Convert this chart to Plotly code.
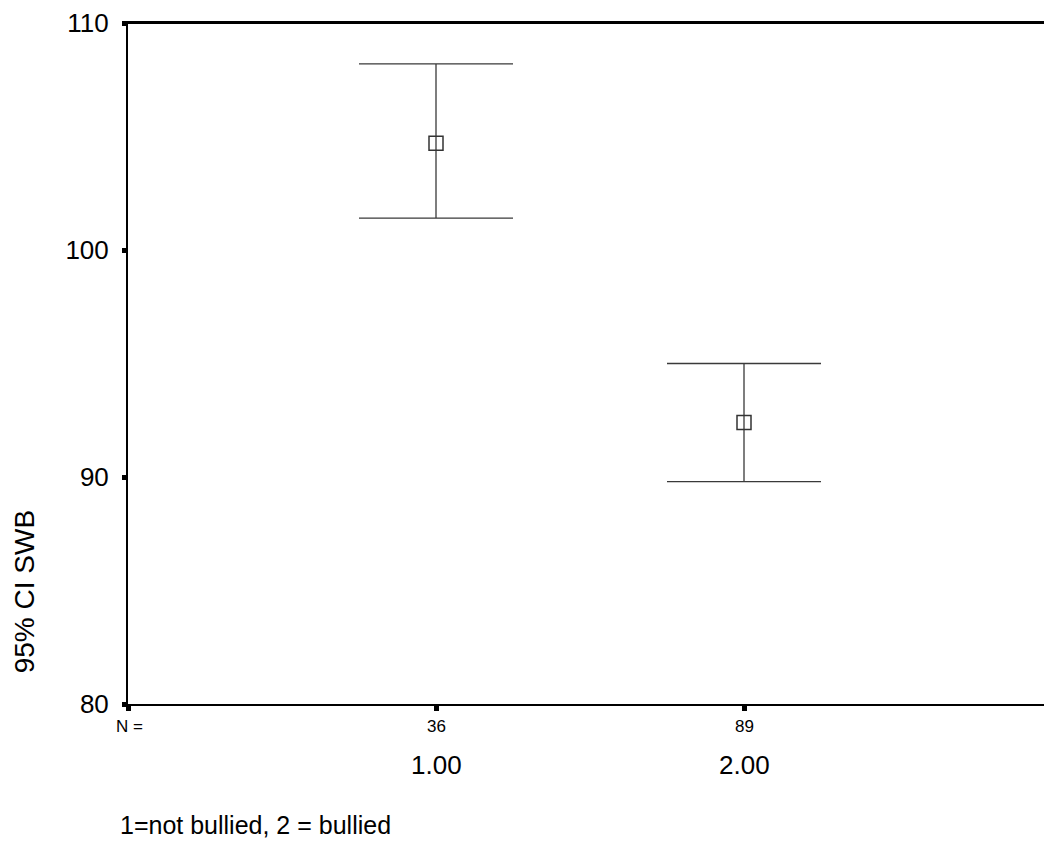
import plotly.graph_objects as go

groups = [1, 2]
group_labels = ["1.00", "2.00"]
n_values = [36, 89]
means = [104.7, 92.4]
upper = [108.2, 95.0]
lower = [101.4, 89.8]

y_ticks = [80, 90, 100, 110]

err_plus = [u - m for u, m in zip(upper, means)]
err_minus = [m - l for m, l in zip(means, lower)]

FONT = "Liberation Sans, Arial, sans-serif"

# page has an 8px body margin; figure sized so plot area lands at page px (128..1052, 21..704)
OFF = 8
W, H = 1044, 857
ML, MT, MR = 120, 13, 0
PLOT_BOTTOM = 704 - OFF
MB = H - PLOT_BOTTOM
PW = W - ML - MR
PH = PLOT_BOTTOM - MT


def px(X):
    return (X - OFF - ML) / PW


def py(Y):
    return (PLOT_BOTTOM - (Y - OFF)) / PH


fig = go.Figure()
fig.add_trace(go.Scatter(
    x=groups, y=means, mode="markers",
    marker=dict(symbol="square-open", size=14, color="#333333", line=dict(width=1.5, color="#333333")),
    error_y=dict(type="data", symmetric=False, array=err_plus, arrayminus=err_minus,
                 color="#3a3a3a", thickness=1.3, width=77),
    showlegend=False, hoverinfo="skip", cliponaxis=False,
))

annotations = [
    dict(x=px(129), y=py(727), xref="paper", yref="paper", text="N =", showarrow=False,
         xanchor="center", yanchor="middle", font=dict(family=FONT, size=17, color="black")),
]
for g, n, lab in zip(groups, n_values, group_labels):
    annotations.append(dict(x=g, y=py(727), xref="x", yref="paper", text=str(n), showarrow=False,
                            xanchor="center", yanchor="middle", font=dict(family=FONT, size=17, color="black")))
    annotations.append(dict(x=g, y=py(765), xref="x", yref="paper", text=lab, showarrow=False,
                            xanchor="center", yanchor="middle", font=dict(family=FONT, size=26, color="black")))
annotations.append(dict(x=px(118), y=py(825), xref="paper", yref="paper", text="1=not bullied, 2 = bullied",
                        showarrow=False, xanchor="left", yanchor="middle",
                        font=dict(family=FONT, size=25, color="black")))
annotations.append(dict(x=px(24), y=py(592), xref="paper", yref="paper", text="95% CI SWB", textangle=-90,
                        showarrow=False, xanchor="center", yanchor="middle",
                        font=dict(family=FONT, size=28, color="black")))

fig.update_layout(
    width=W, height=H,
    margin=dict(l=ML, r=MR, t=MT, b=MB, pad=0),
    paper_bgcolor="white", plot_bgcolor="white",
    xaxis=dict(range=[0, 3], showgrid=False, zeroline=False, showline=True, linecolor="black", linewidth=2,
               mirror=True, tickvals=[0, 1, 2], ticks="outside", ticklen=5, tickwidth=5, tickcolor="black",
               showticklabels=False),
    yaxis=dict(range=[80, 110], showgrid=False, zeroline=False, showline=True, linecolor="black", linewidth=2,
               tickvals=y_ticks, ticktext=[str(v) for v in y_ticks], ticks="outside", ticklen=4, tickwidth=5,
               tickcolor="black", ticklabelstandoff=8, ticklabeloverflow="allow",
               tickfont=dict(family=FONT, size=26, color="black")),
    shapes=[dict(type="line", xref="paper", yref="paper", x0=0, x1=1, y0=1, y1=1,
                 line=dict(color="black", width=2), layer="above")],
    annotations=annotations,
)

fig.write_html("out.html")
